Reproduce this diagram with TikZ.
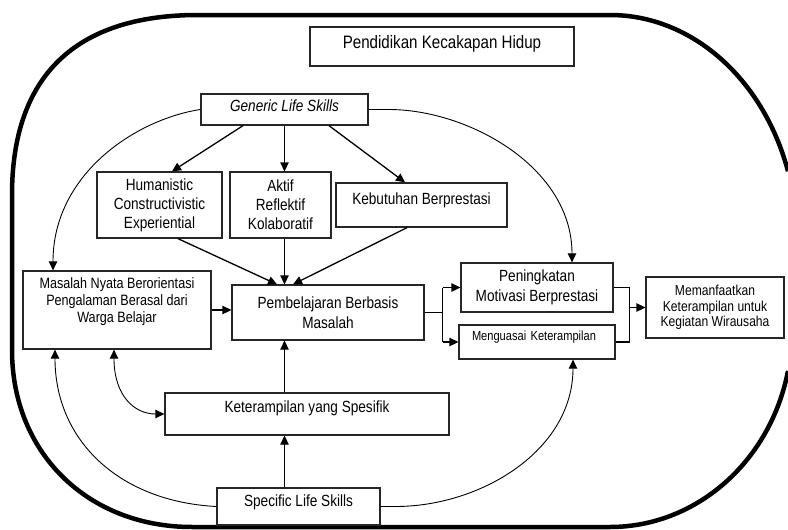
\documentclass[tikz,border=0pt]{standalone}
\usepackage{fontspec}
\setmainfont{Liberation Sans}[FakeStretch=0.84]
\usetikzlibrary{positioning, arrows.meta, calc}

\begin{document}
\begin{tikzpicture}[x=1pt, y=-1pt,
    box/.style={rectangle, draw=black!85, line width=1.3pt, inner sep=2pt, align=center,
                font=\fontsize{16.2}{19.5}\selectfont},
    arrow/.style={-{Triangle[length=9pt, width=8.5pt]}, line width=1.3pt},
    curvearrow/.style={-{Triangle[length=9pt, width=8.5pt]}, line width=0.9pt},
    twoway/.style={{Triangle[length=9pt, width=8.5pt]}-{Triangle[length=9pt, width=8.5pt]}, line width=0.9pt},
    frame/.style={line width=4.5pt}
]
    \useasboundingbox (0,0) rectangle (788,530);
    \clip (0,0) rectangle (788,530);

    % === Outer frame (runs off the right edge) ===
    \draw[frame] (788,371) .. controls (770.2,462) and (695.9,527) .. (610,527) -- (192,527)
        .. controls (87.6,527) and (12,452.7) .. (12,350) -- (12,195)
        .. controls (12,76.2) and (75.2,15) .. (198,15) -- (610,15)
        .. controls (691.3,15) and (763.1,78.1) .. (788,171.2);

    % === Nodes ===
    \node[box, minimum width=264pt, minimum height=39pt, text depth=9pt,
          font=\fontsize{18}{21}\selectfont] (title) at (442,46.5) {Pendidikan Kecakapan Hidup};
    \node[box, minimum width=167pt, minimum height=31pt, text depth=8pt,
          font=\fontsize{16.2}{19}\selectfont\itshape] (generic) at (284.5,109.5) {Generic Life Skills};

    \node[box, minimum width=125pt, minimum height=66pt, font=\fontsize{16.2}{19}\selectfont]
        (human) at (159.5,205) {Humanistic\\Constructivistic\\Experiential};
    \node[box, minimum width=101pt, minimum height=66pt, font=\fontsize{16.2}{19}\selectfont]
        (aktif) at (280.5,205) {Aktif\\Reflektif\\Kolaboratif};
    \node[box, minimum width=171pt, minimum height=44pt, text depth=13.5pt]
        (kebutuhan) at (421.5,205) {Kebutuhan Berprestasi};

    \node[box, inner sep=0pt, minimum width=188pt, minimum height=78pt,
          font=\fontsize{15}{17}\selectfont] (masalah) at (117,310)
        {\begin{minipage}[c][64pt][t]{186pt}\centering
         Masalah Nyata Berorientasi\\Pengalaman Berasal dari\\Warga Belajar\end{minipage}};
    \node[box, minimum width=192pt, minimum height=55pt]
        (pemb) at (328,312.5) {Pembelajaran Berbasis\\Masalah};
    \node[box, minimum width=284pt, minimum height=42pt, text depth=15.5pt]
        (ket) at (307,414) {Keterampilan yang Spesifik};
    \node[box, minimum width=163pt, minimum height=37pt, text depth=12.5pt]
        (specific) at (298.5,506.5) {Specific Life Skills};

    \node[box, minimum width=152pt, minimum height=49pt]
        (peningkatan) at (537,287.5) {Peningkatan\\Motivasi Berprestasi};
    \node[box, minimum height=34pt, text width=130pt, align=left, inner xsep=13pt,
          text depth=12.8pt, font=\fontsize{13.2}{15}\selectfont]
        (menguasai) at (537,342) {Menguasai Keterampilan};
    \node[box, minimum width=138pt, minimum height=61pt, font=\fontsize{14.4}{15.5}\selectfont]
        (memanfaatkan) at (715,307.5) {Memanfaatkan\\Keterampilan untuk\\Kegiatan Wirausaha};

    % === Generic life skills ===
    \draw[arrow] ([xshift=-41.5pt]generic.south) -- ([xshift=12.5pt]human.north);
    \draw[arrow] (generic.south) -- (generic.south |- aktif.north);
    \draw[arrow] ([xshift=44.5pt]generic.south) -- ([xshift=-16.5pt]kebutuhan.north);
    \draw[curvearrow] (generic.west) .. controls +(-65,10) and +(0,-96) .. ([xshift=-64pt]masalah.north);
    \draw[curvearrow] (generic.east) -- ++(20,0) .. controls +(80,0) and +(0,-95) .. ([xshift=35pt]peningkatan.north);

    % === Into pembelajaran ===
    \draw[arrow] ([xshift=18.5pt]human.south) -- ([xshift=-51pt]pemb.north);
    \draw[arrow] (generic.south |- aktif.south) -- (generic.south |- pemb.north);
    \draw[arrow] ([xshift=-14.5pt]kebutuhan.south) -- ([xshift=-35pt]pemb.north);
    \draw[arrow] (masalah.east) -- (masalah.east -| pemb.west);
    \draw[arrow] (generic.south |- ket.north) -- (generic.south |- pemb.south);
    \draw[arrow] (generic.south |- specific.north) -- (generic.south |- ket.south);

    % === Split and merge ===
    \draw[line width=1.3pt] (pemb.east) -- ++(18,0) coordinate (split);
    \draw[line width=1.3pt] (split |- peningkatan.west) -- (split |- menguasai.west);
    \draw[arrow] (split |- peningkatan.west) -- (peningkatan.west);
    \draw[arrow] (split |- menguasai.west) -- (menguasai.west);
    \draw[line width=1.3pt] (peningkatan.east) -- ++(16,0) coordinate (merge) |- (menguasai.east);
    \draw[arrow] (merge |- memanfaatkan.west) -- (memanfaatkan.west);

    % === Specific life skills ===
    \draw[curvearrow] (specific.west) .. controls +(-97,-5) and +(0,91) .. ([xshift=-62pt]masalah.south);
    \draw[curvearrow] (specific.east) -- ++(15,0) .. controls +(85,0) and +(0,91) .. ([xshift=36pt]menguasai.south);
    \draw[twoway] ([xshift=-3pt]masalah.south) .. controls +(0,46) and +(-30,0) .. (ket.west);

\end{tikzpicture}
\end{document}
